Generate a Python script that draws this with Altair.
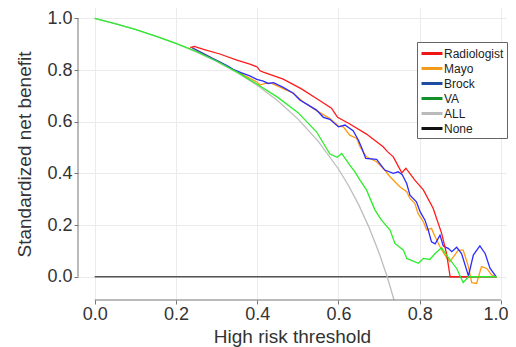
import altair as alt
import pandas as pd

# ---- data ----
names = ["Radiologist", "Mayo", "Brock", "VA", "ALL", "None"]
line_colors = ["#ff1a1a", "#ff9a10", "#2b2bff", "#2aee2a", "#bdbdbd", "#555555"]
legend_colors = ["#ee1515", "#f39c1c", "#1e4ca0", "#14902a", "#bbbbbb", "#111111"]

rad_t = [0.235, 0.245, 0.27, 0.308, 0.35, 0.382, 0.400, 0.407, 0.415, 0.464, 0.509, 0.546, 0.583,
         0.590, 0.598, 0.628, 0.669, 0.710, 0.720, 0.735, 0.756, 0.766, 0.788, 0.809, 0.833, 0.854,
         0.866, 0.875, 0.99]
rad_v = [0.887, 0.891, 0.879, 0.862, 0.838, 0.823, 0.812, 0.797, 0.792, 0.765, 0.727, 0.690, 0.652,
         0.635, 0.617, 0.591, 0.552, 0.503, 0.485, 0.464, 0.402, 0.420, 0.374, 0.336, 0.265, 0.168,
         0.090, 0.0, 0.0]

mayo_t = [0.24, 0.29, 0.33, 0.36, 0.382, 0.40, 0.407, 0.42, 0.436, 0.464, 0.489, 0.513, 0.546, 0.579,
          0.600, 0.612, 0.628, 0.645, 0.653, 0.669, 0.694, 0.714, 0.727, 0.751, 0.768, 0.776, 0.788,
          0.796, 0.809, 0.817, 0.829, 0.838, 0.850, 0.862, 0.874, 0.882, 0.895, 0.907, 0.920, 0.928,
          0.940, 0.952, 0.965, 0.977, 0.988]
mayo_v = [0.886, 0.845, 0.810, 0.786, 0.768, 0.753, 0.742, 0.748, 0.748, 0.728, 0.710, 0.677, 0.643,
          0.612, 0.583, 0.580, 0.548, 0.535, 0.503, 0.464, 0.445, 0.413, 0.387, 0.348, 0.329, 0.303,
          0.284, 0.245, 0.213, 0.181, 0.187, 0.155, 0.116, 0.084, 0.058, 0.075, 0.103, 0.103, 0.039,
          -0.023, -0.026, 0.039, 0.032, 0.007, 0.0]

brock_t = [0.24, 0.29, 0.31, 0.33, 0.341, 0.36, 0.382, 0.399, 0.415, 0.427, 0.440, 0.464, 0.489,
           0.505, 0.526, 0.546, 0.563, 0.579, 0.600, 0.616, 0.636, 0.649, 0.657, 0.667, 0.694, 0.714,
           0.735, 0.747, 0.757, 0.768, 0.776, 0.792, 0.801, 0.813, 0.821, 0.829, 0.838, 0.850, 0.858,
           0.870, 0.879, 0.891, 0.903, 0.920, 0.932, 0.948, 0.961, 0.973, 0.988]
brock_v = [0.886, 0.845, 0.830, 0.813, 0.803, 0.790, 0.777, 0.764, 0.757, 0.748, 0.751, 0.733, 0.710,
           0.684, 0.664, 0.645, 0.617, 0.609, 0.580, 0.587, 0.565, 0.529, 0.500, 0.458, 0.454, 0.413,
           0.400, 0.406, 0.395, 0.361, 0.316, 0.290, 0.252, 0.219, 0.181, 0.135, 0.127, 0.161, 0.119,
           0.110, 0.097, 0.114, 0.090, 0.003, 0.084, 0.119, 0.090, 0.033, 0.0]

va_t = [0.0, 0.05, 0.1, 0.15, 0.2, 0.25, 0.3, 0.35, 0.4, 0.45, 0.5, 0.546, 0.579, 0.597, 0.608,
        0.628, 0.641, 0.653, 0.669, 0.690, 0.706, 0.727, 0.739, 0.760, 0.768, 0.797, 0.809, 0.825,
        0.838, 0.854, 0.866, 0.891, 0.907, 0.920, 0.99]
va_v = [1.0, 0.980, 0.957, 0.931, 0.903, 0.872, 0.835, 0.793, 0.745, 0.695, 0.636, 0.561, 0.475,
        0.462, 0.477, 0.432, 0.405, 0.374, 0.336, 0.258, 0.219, 0.181, 0.129, 0.103, 0.071, 0.052,
        0.071, 0.067, 0.090, 0.112, 0.084, 0.032, -0.023, 0.0, 0.0]

all_t = [0.0, 0.05, 0.1, 0.15, 0.2, 0.25, 0.3, 0.35, 0.4, 0.45, 0.5, 0.55, 0.6, 0.625, 0.65, 0.675,
         0.7, 0.72, 0.74]
all_v = [1.0, 0.980, 0.957, 0.931, 0.903, 0.870, 0.833, 0.791, 0.741, 0.682, 0.611, 0.525, 0.417,
         0.352, 0.278, 0.192, 0.092, 0.0, -0.107]

none_t = [0.0, 0.99]
none_v = [0.0, 0.0]

tick_vals = [0.0, 0.2, 0.4, 0.6, 0.8, 1.0]

series = {
    "Radiologist": (rad_t, rad_v),
    "Mayo": (mayo_t, mayo_v),
    "Brock": (brock_t, brock_v),
    "VA": (va_t, va_v),
    "ALL": (all_t, all_v),
    "None": (none_t, none_v),
}
rows = []
for name, (ts, vs) in series.items():
    for i, (a, b) in enumerate(zip(ts, vs)):
        rows.append({"series": name, "t": a, "v": b, "i": i})
df = pd.DataFrame(rows)

XDOM = [-0.041, 1.0124]
YDOM = [-0.090, 1.040]
W, H = 428, 292

xs = alt.Scale(domain=XDOM, nice=False, zero=False)
ys = alt.Scale(domain=YDOM, nice=False, zero=False)

x_enc = alt.X("t:Q", scale=xs, title="High risk threshold",
              axis=alt.Axis(values=tick_vals, format=".1f", domain=False, titlePadding=4,
                            labelPadding=1,
                            labelAlign=alt.condition("datum.value == 1", alt.value("right"), alt.value("center")),
                            labelOffset=alt.condition("datum.value == 1", alt.value(7), alt.value(0))))
y_enc = alt.Y("v:Q", scale=ys, title="Standardized net benefit",
              axis=alt.Axis(values=tick_vals, format=".1f", domain=False, titlePadding=12, labelPadding=2))

stroke_enc = alt.Stroke("series:N", scale=alt.Scale(domain=names, range=line_colors), legend=None)
legend_enc = alt.Color("series:N", scale=alt.Scale(domain=names, range=legend_colors),
                       legend=alt.Legend(title=None, orient="none", legendX=339, legendY=34,
                                         symbolType="M-1,0H2", symbolStrokeWidth=3, symbolSize=196,
                                         symbolOpacity=1,
                                         labelFontSize=12, labelFont="Liberation Sans", labelColor="#222",
                                         strokeColor="#666", fillColor="white", padding=3,
                                         rowPadding=0, labelOffset=7))

base = alt.Chart(df).mark_line(strokeWidth=1.3, clip=True).encode(
    x=x_enc, y=y_enc, stroke=stroke_enc, order="i:Q")

draw_order = ["None", "ALL", "Mayo", "Brock", "Radiologist", "VA"]
layers = []
for n in draw_order:
    sw = 1.6 if n == "None" else 1.3
    layers.append(base.transform_filter(alt.datum.series == n).mark_line(strokeWidth=sw, clip=True))

# invisible layer that only carries the legend (its symbol colours differ from the lines)
legend_layer = alt.Chart(df).mark_line(opacity=0, clip=True).encode(
    x=alt.X("t:Q", scale=xs), y=alt.Y("v:Q", scale=ys), color=legend_enc, order="i:Q")

frame_x = pd.DataFrame({"t": [0.0], "t2": [1.0]})
frame_y = pd.DataFrame({"v": [0.0], "v2": [1.0]})
fx = alt.Chart(frame_x).mark_rule(color="#777", strokeWidth=1).encode(
    x=alt.X("t:Q", scale=xs), x2="t2:Q", y=alt.value(H))
fy = alt.Chart(frame_y).mark_rule(color="#777", strokeWidth=1).encode(
    y=alt.Y("v:Q", scale=ys), y2="v2:Q", x=alt.value(0))

chart = alt.layer(legend_layer, *layers, fx, fy).resolve_scale(
    color="independent", stroke="independent"
).properties(
    width=W, height=H,
    autosize=alt.AutoSizeParams(type="none"),
    padding={"left": 70, "top": 0, "right": 2, "bottom": 47},
).configure_view(stroke=None).configure_axis(
    labelFont="Liberation Sans", titleFont="Liberation Sans",
    labelFontSize=18, titleFontSize=19, labelColor="#333", titleColor="#333",
    titleFontWeight="normal", tickColor="#777", tickSize=4,
    gridColor="#ebebeb", gridWidth=1,
)

chart.save("out.html", embed_options={"renderer": "svg", "actions": False})
